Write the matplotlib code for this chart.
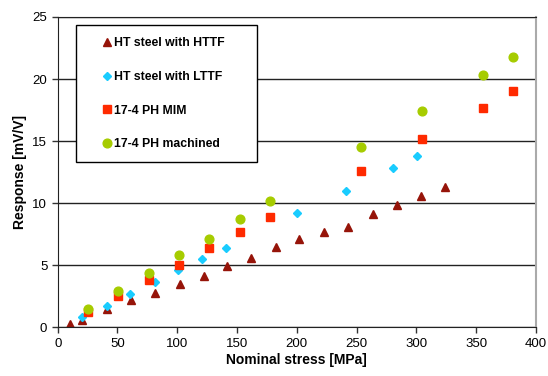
import matplotlib
matplotlib.use("Agg")
import matplotlib.pyplot as plt
from matplotlib.patches import Rectangle

plt.rcParams['font.family'] = ['Liberation Sans', 'DejaVu Sans']

# data
httf_x = [10, 20, 41, 61, 81, 102, 122, 142, 162, 183, 202, 223, 243, 264, 284, 304, 324]
httf_y = [0.3, 0.55, 1.45, 2.2, 2.8, 3.5, 4.15, 4.9, 5.6, 6.5, 7.1, 7.7, 8.1, 9.15, 9.85, 10.55, 11.3]

lttf_x = [20.5, 41, 60.5, 81, 101, 120.5, 141, 200.5, 241, 280.5, 300.5]
lttf_y = [0.85, 1.75, 2.7, 3.65, 4.6, 5.5, 6.4, 9.2, 11.0, 12.85, 13.8]

mim_x = [25.4, 50.8, 76.2, 101.6, 127, 152.4, 177.8, 254, 304.8, 355.6, 381]
mim_y = [1.2, 2.5, 3.85, 5.05, 6.35, 7.65, 8.85, 12.6, 15.2, 17.7, 19.05]

mach_x = [25.4, 50.8, 76.2, 101.6, 127, 152.4, 177.8, 254, 304.8, 355.6, 381]
mach_y = [1.45, 2.9, 4.35, 5.8, 7.15, 8.75, 10.2, 14.5, 17.4, 20.35, 21.8]

labels = ["HT steel with HTTF", "HT steel with LTTF", "17-4 PH MIM", "17-4 PH machined"]

fig = plt.figure(figsize=(5.48, 3.76), dpi=100)
ax = fig.add_axes([0.1053, 0.1295, 0.8724, 0.8253])

ax.plot(httf_x, httf_y, ls='none', marker='^', ms=5.4, color='#961409', label=labels[0])
ax.plot(lttf_x, lttf_y, ls='none', marker='D', ms=3.8, color='#19CCFF', label=labels[1])
ax.plot(mim_x, mim_y, ls='none', marker='s', ms=5.5, color='#FF2A00', label=labels[2])
ax.plot(mach_x, mach_y, ls='none', marker='o', ms=6.3, color='#A6CC00', label=labels[3])

ax.set_xlim(0, 400)
ax.set_ylim(0, 25)
ax.set_xticks(range(0, 401, 50))
ax.set_yticks(range(0, 26, 5))
ax.set_axisbelow(True)
ax.yaxis.grid(True, color='#222222', lw=1.0)
ax.tick_params(direction='out', length=4, width=1, labelsize=9.5, color='#333333')

for s in ['left', 'bottom', 'top']:
    ax.spines[s].set_color('#222222')
ax.spines['right'].set_color('#aaaaaa')
ax.spines['right'].set_linewidth(1.5)

ax.set_xlabel("Nominal stress [MPa]", fontsize=10, fontweight='bold', labelpad=2)
ax.set_ylabel("Response [mV/V]", fontsize=10, fontweight='bold', labelpad=4)

# legend box
ax.add_patch(Rectangle((0.0376, 0.532), 0.38, 0.442, transform=ax.transAxes,
                       facecolor='white', edgecolor='black', lw=1.0, zorder=4))
leg = ax.legend(loc='upper left', bbox_to_anchor=(0.0904, 0.935), frameon=False,
                borderpad=0, borderaxespad=0, handlelength=1.0, handletextpad=0.08,
                labelspacing=1.78, prop={'size': 8.8, 'weight': 'bold'}, numpoints=1)
leg.set_zorder(5)

fig.savefig("out.png", dpi=100)
